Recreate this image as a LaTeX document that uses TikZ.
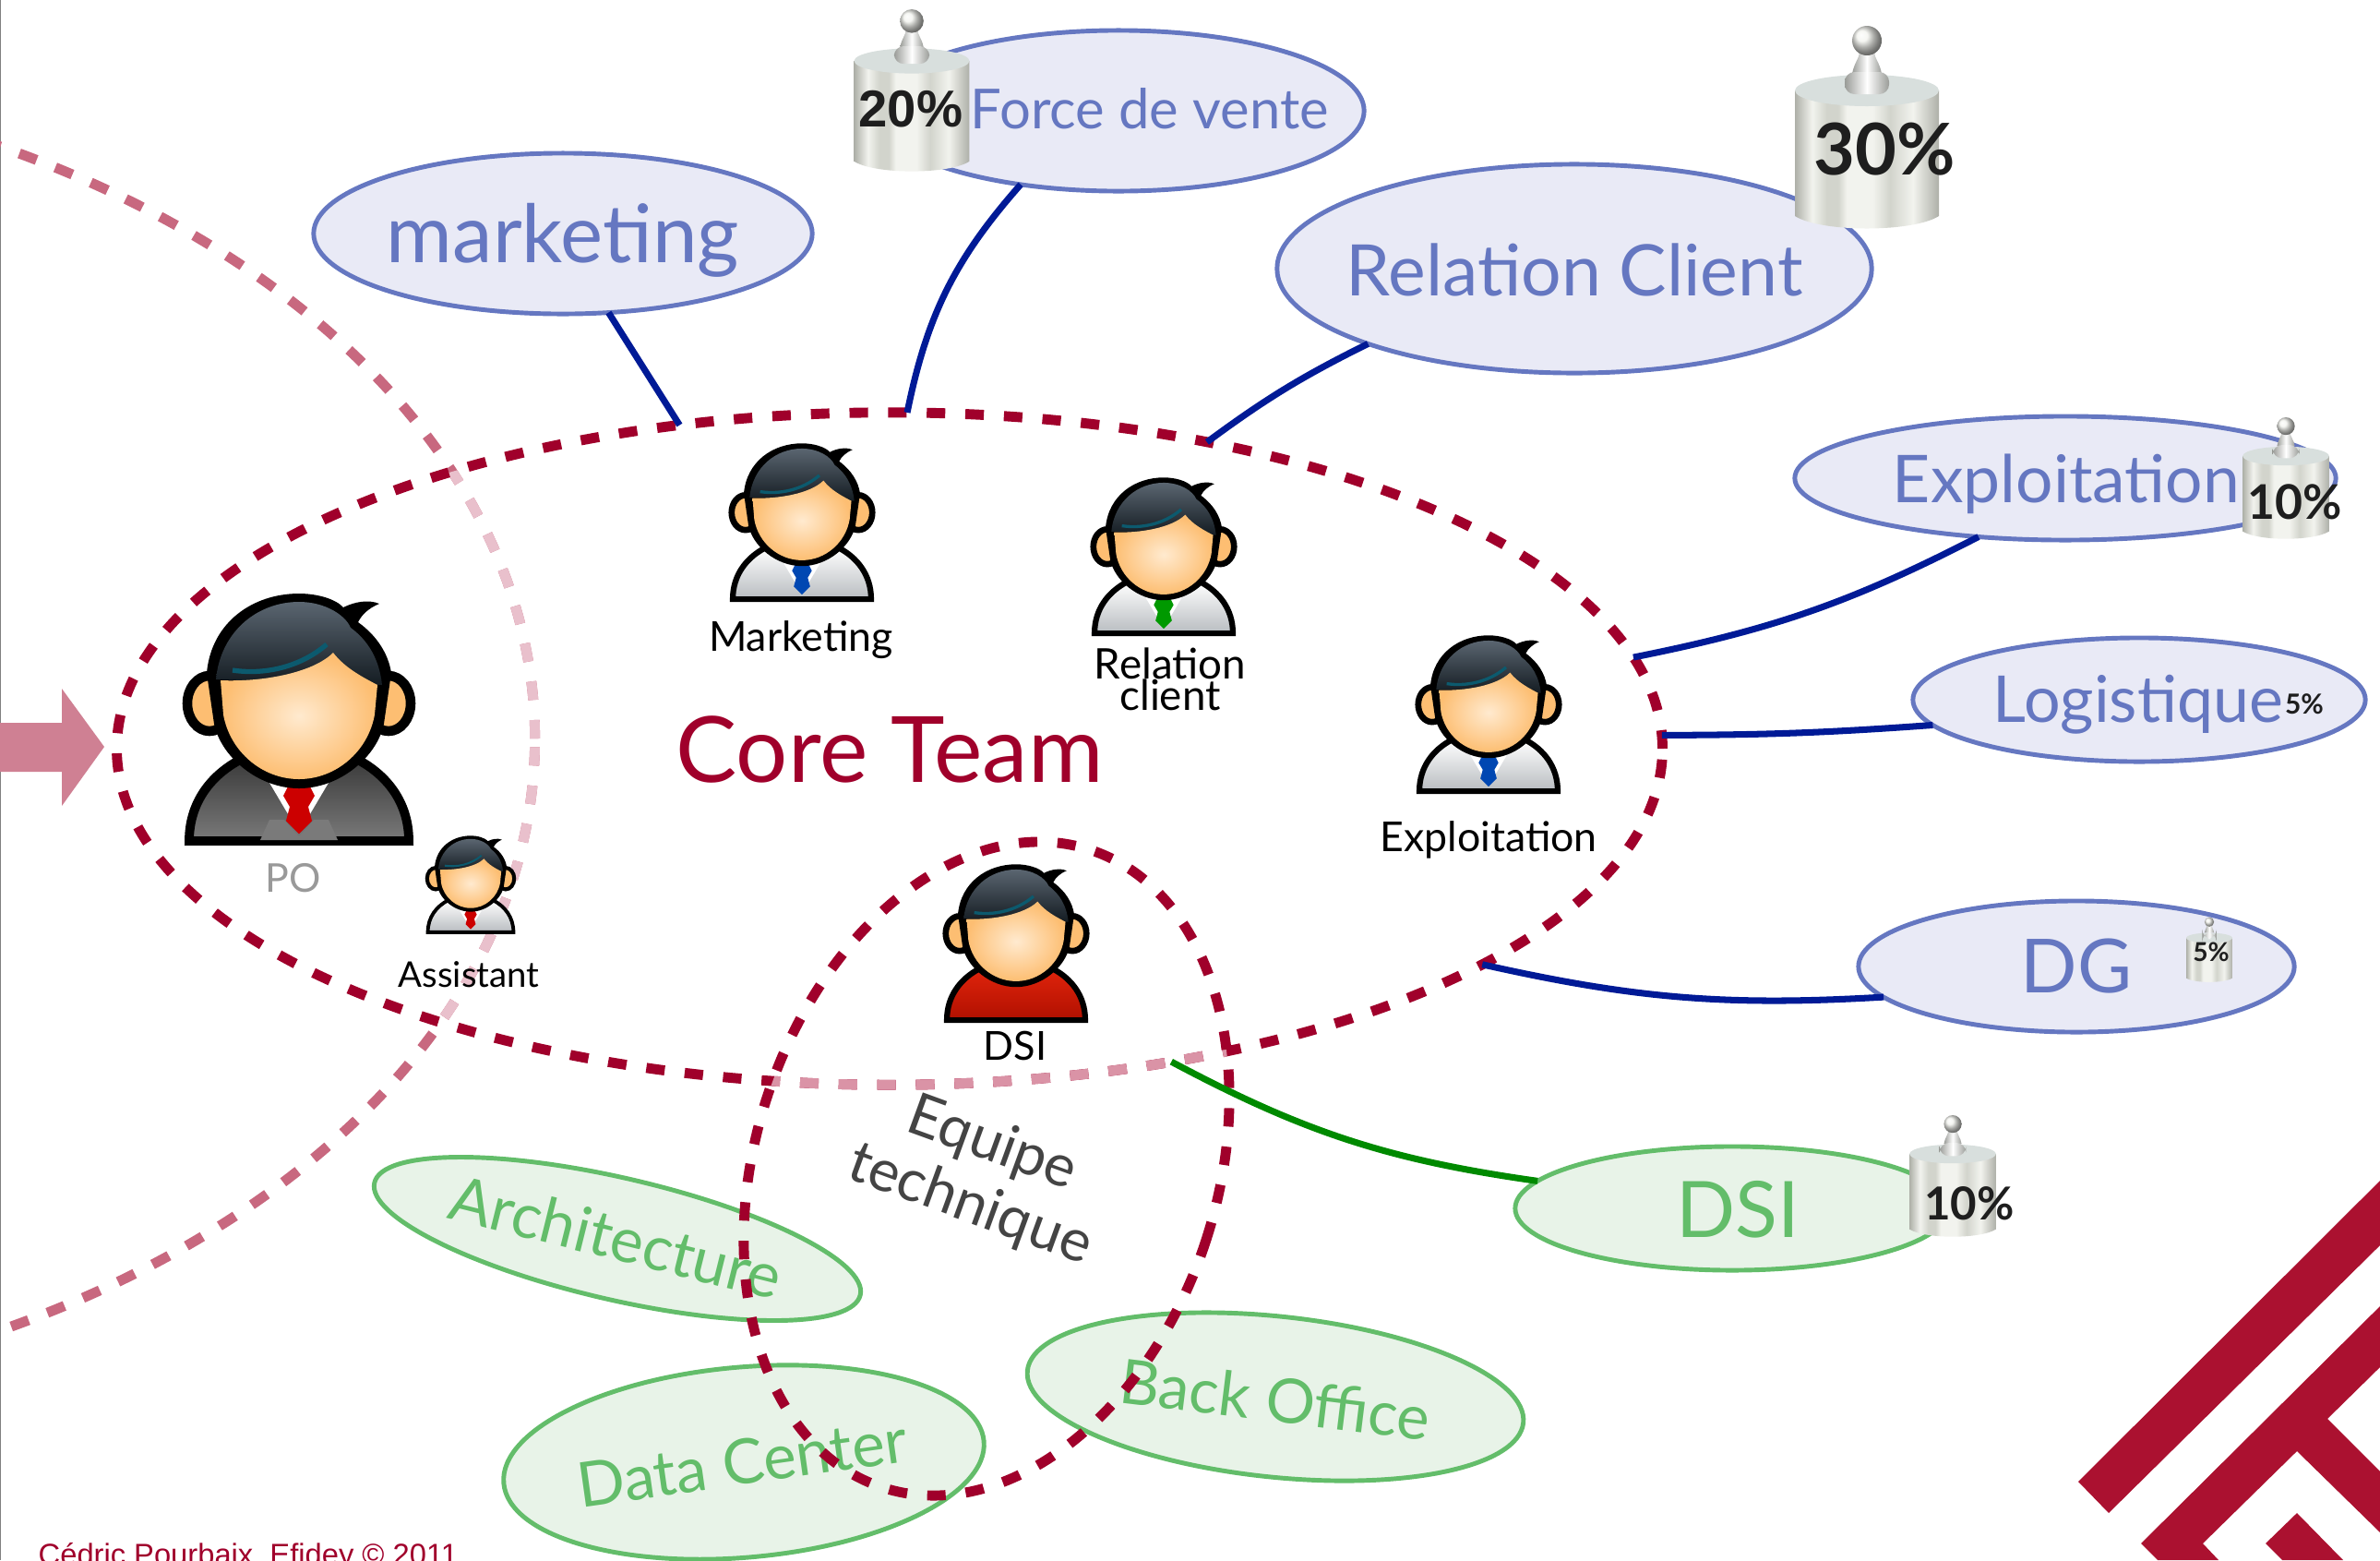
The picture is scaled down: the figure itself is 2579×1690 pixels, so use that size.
\documentclass[tikz,border=0pt]{standalone}
\usepackage{fontspec}
\setmainfont{Lato}
\newfontfamily\creditfont{Liberation Sans}
\usetikzlibrary{shapes,positioning}

\definecolor{coreRed}{HTML}{A0002B}
\definecolor{corePale}{HTML}{DA93A6}
\definecolor{poPink}{HTML}{C8687F}
\definecolor{poPale}{HTML}{E9C0CC}
\definecolor{arrowPink}{HTML}{CF8093}
\definecolor{ovalBlue}{HTML}{6577C1}
\definecolor{ovalBlueFill}{HTML}{E9EAF6}
\definecolor{ovalGreen}{HTML}{63BD6A}
\definecolor{ovalGreenFill}{HTML}{E8F3E8}
\definecolor{linkBlue}{HTML}{001A96}
\definecolor{linkGreen}{HTML}{008A00}
\definecolor{logoRed}{HTML}{AB1130}
\definecolor{inkGrey}{HTML}{444444}
\definecolor{inkBlack}{HTML}{1E1E1E}
\definecolor{hairTop}{HTML}{5A6570}
\definecolor{hairBottom}{HTML}{141C22}
\definecolor{hairTeal}{HTML}{0C5A6E}
\definecolor{faceLight}{HTML}{FFEACF}
\definecolor{faceDark}{HTML}{FDBE72}
\definecolor{steelDark}{HTML}{AEB0A8}
\definecolor{steelMid}{HTML}{9A9C98}
\definecolor{steelSoft}{HTML}{D2D4CC}
\definecolor{steelLight}{HTML}{F2F3EE}
\definecolor{steelTop}{HTML}{D8DFDD}
\definecolor{jacketTop}{HTML}{3A3A3A}
\definecolor{jacketBottom}{HTML}{7A7A7A}
\definecolor{shirtBottom}{HTML}{B8BCC0}
\definecolor{poloTop}{HTML}{E0240C}
\definecolor{poloBottom}{HTML}{B01000}

\pgfdeclarehorizontalshading{steel}{100bp}{color(0bp)=(steelDark); color(25bp)=(steelDark);
    color(31bp)=(steelLight); color(36bp)=(steelSoft); color(40bp)=(steelSoft); color(43bp)=(steelLight);
    color(52bp)=(steelLight); color(58bp)=(steelSoft); color(66bp)=(steelLight); color(75bp)=(steelDark); color(100bp)=(steelDark)}

\newcommand{\fsize}[1]{\fontsize{#1}{#1}\selectfont}
\newcommand{\fsizeskip}[2]{\fontsize{#1}{#2}\selectfont}

\tikzset{x=0.01cm,y=-0.01cm,
    blue oval/.style={ellipse,draw=ovalBlue,fill=ovalBlueFill,line width=1.4pt,inner sep=0pt,outer sep=0pt},
    green oval/.style={ellipse,draw=ovalGreen,fill=ovalGreenFill,line width=1.4pt,inner sep=0pt,outer sep=0pt},
    team loop/.style={ellipse,line width=3.1pt,dash pattern=on 5.7pt off 6.2pt,inner sep=0pt,outer sep=0pt},
    blue text/.style={text=ovalBlue,inner sep=0pt},
    green text/.style={text=ovalGreen,inner sep=0pt},
    person text/.style={text=black,inner sep=0pt,font=\fsize{12.7}},
    weight text/.style={text=inkBlack,inner sep=0pt},
    link/.style={draw,line width=2pt},
}

% one person: x, y of the foot, scale, body colours, what is worn on the shirt
\newcommand{\personicon}[6]{%
\begin{scope}[shift={(#1,#2)},scale=#3]
    % ears
    \foreach \side in {-1,1}
        \draw[line width=#3*3pt,fill=faceDark] (\side*97,-152) ellipse [x radius=24,y radius=30];
    % body
    \draw[line width=#3*2.8pt,top color=#4,bottom color=#5]
        (-119,-3) .. controls (-119,-45) and (-95,-75) .. (-62,-92) -- (62,-92)
        .. controls (95,-75) and (119,-45) .. (119,-3) -- cycle;
    #6
    % head
    \fill[black] (-100,-185) .. controls (-95,-240) and (-50,-271) .. (0,-271)
        .. controls (20,-271) and (40,-265) .. (48,-256) .. controls (60,-262) and (75,-265) .. (87,-260)
        .. controls (75,-255) and (68,-248) .. (64,-240) .. controls (85,-225) and (97,-205) .. (100,-185)
        -- (92,-130) .. controls (85,-95) and (45,-60) .. (0,-60)
        .. controls (-45,-60) and (-85,-95) .. (-92,-130) -- cycle;
    \shade[top color=hairTop,bottom color=hairBottom] (-90,-178) .. controls (-85,-230) and (-45,-262) .. (0,-262)
        .. controls (28,-262) and (50,-248) .. (56,-234) .. controls (75,-220) and (87,-200) .. (90,-172) -- cycle;
    \shade[inner color=faceLight,outer color=faceDark] (-85,-177) .. controls (-40,-175) and (15,-185) .. (37,-207)
        .. controls (50,-190) and (70,-180) .. (85,-172) -- (82,-140)
        .. controls (75,-100) and (40,-70) .. (0,-70) .. controls (-40,-70) and (-75,-100) .. (-82,-140) -- cycle;
    \draw[line width=#3*1.5pt,hairTeal] (-72,-188) .. controls (-40,-183) and (0,-190) .. (30,-216);
\end{scope}}

% shirt with a tie: colour of the tie
\newcommand{\tieshirt}[1]{%
    \fill[white] (-45,-88) -- (0,-12) -- (45,-88) -- cycle;
    \fill[#1] (-8,-70) -- (8,-70) -- (17,-52) -- (10,-40) -- (14,-25) -- (0,-11) -- (-14,-25) -- (-10,-40) -- (-17,-52) -- cycle;}

% one weight: x, y of the foot, scale
\newcommand{\weighticon}[3]{%
\begin{scope}[shift={(#1,#2)},scale=#3]
    \shade[shading=steel]
        (-78,-150) -- (-78,-14) .. controls (-50,4) and (50,4) .. (78,-14) -- (78,-150) -- cycle;
    \fill[steelTop] (0,-150) ellipse [x radius=78,y radius=17];
    \shade[left color=steelMid,right color=steelMid,middle color=white]
        (-16,-168) .. controls (-14,-180) and (-8,-185) .. (-8,-192) -- (8,-192) .. controls (8,-185) and (14,-180) .. (16,-168) -- cycle;
    \shade[left color=steelMid,right color=steelMid,middle color=white,rounded corners=3pt] (-24,-170) rectangle (24,-146);
    \shade[ball color=steelLight] (0,-204) circle [radius=16];
\end{scope}}

\begin{document}
\begin{tikzpicture}

    \clip (0,0) rectangle (2579,1690);
    \draw[line width=0.6pt,gray] (0,0) -- (0,1690);

    % the PO's wide loop, paler inside the core team
    \node[team loop,draw=poPink,minimum width=21.58cm,minimum height=14.46cm] (poloop) at (-500,800) {};
    \begin{scope}
        \clip (964,811) ellipse [x radius=837,y radius=364];
        \node[team loop,draw=poPale,minimum width=21.58cm,minimum height=14.46cm] (poloopin) at (-500,800) {};
    \end{scope}

    \fill[arrowPink] (0,783) -- (67,783) -- (67,746) -- (113,809) -- (67,873) -- (67,836) -- (0,836) -- cycle;

    % contributors
    \node[blue oval,minimum width=5.4cm,minimum height=1.74cm] (marketing) at (610,253) {};
    \node[blue oval,minimum width=5.32cm,minimum height=1.74cm] (force) at (1212,120) {};
    \node[blue oval,minimum width=6.44cm,minimum height=2.26cm] (relation) at (1706,291) {};
    \node[blue oval,minimum width=5.86cm,minimum height=1.34cm] (exploit) at (2238,518) {};
    \node[blue oval,minimum width=4.9cm,minimum height=1.34cm] (logistique) at (2318,758) {};
    \node[blue oval,minimum width=4.72cm,minimum height=1.42cm] (dg) at (2250,1047) {};
    \node[green oval,minimum width=4.7cm,minimum height=1.34cm] (dsi) at (1877,1309) {};
    \node[green oval,rotate=-13,minimum width=5.4cm,minimum height=1.32cm] (archi) at (669,1342) {};
    \node[green oval,rotate=5,minimum width=5.22cm,minimum height=2.06cm] (datacenter) at (806,1584) {};
    \node[green oval,rotate=-6,minimum width=5.4cm,minimum height=1.74cm] (backoffice) at (1382,1513) {};

    \node[blue text,font=\fsize{24.8}] (marketingname) at (610,260) {marketing};
    \node[blue text,font=\fsize{17}] (forcename) at (1246,118) {Force de vente};
    \node[blue text,font=\fsize{21.9}] (relationname) at (1706,292) {Relation Client};
    \node[blue text,font=\fsize{20.3}] (exploitname) at (2239,524) {Exploitation};
    \node[blue text,font=\fsize{19.9}] (logistiquename) at (2317,763) {Logistique};
    \node[blue text,font=\fsize{23}] (dgname) at (2250,1047) {DG};
    \node[green text,font=\fsize{24}] (dsiname) at (1883,1310) {DSI};
    \node[green text,rotate=-14,font=\fsize{19.2}] (archiname) at (668,1340) {Architecture};
    \node[green text,rotate=8,font=\fsize{19.2}] (datacentername) at (804,1584) {Data Center};
    \node[green text,rotate=-7,font=\fsize{19}] (backofficename) at (1382,1516) {Back Office};

    % core team and technical team
    \node[team loop,draw=coreRed,minimum width=16.74cm,minimum height=7.28cm] (core) at (964,811) {};
    \begin{scope}
        \clip[rotate around={-18:(1069,1266)}] (1069,1266) ellipse [x radius=250,y radius=363];
        \node[team loop,draw=corePale,minimum width=16.74cm,minimum height=7.28cm] (corein) at (964,811) {};
    \end{scope}
    \node[team loop,draw=coreRed,rotate=-18,minimum width=5cm,minimum height=7.26cm] (equipe) at (1069,1266) {};

    \path[link,linkBlue]
    (marketing.-60) edge (core.123)
    (force.-143) edge [bend right=15] (core.87.5)
    (relation.-160) edge [bend right=5] (core.44.3)
    (exploit.-146.6) edge [bend left=8] (core.7.8)
    (logistique.-173) edge [bend left=2] (core.1.5)
    (dg.-171.4) edge [bend left=8] (core.-20.3);
    \path[link,linkGreen]
    (dsi.172.5) edge [bend left=10] (core.-48);

    % people
    \personicon{324}{914}{1}{jacketTop}{jacketBottom}{\tieshirt{red!80!black}
        \fill[jacketBottom] (-42,-4) -- (-32,-26) -- (-16,-26) -- (0,-8) -- (16,-26) -- (32,-26) -- (42,-4) -- cycle;
        \fill[red!80!black] (-14,-25) -- (14,-25) -- (0,-11) -- cycle;}
    \personicon{510}{1011}{0.39}{white}{shirtBottom}{\tieshirt{red!80!black}}
    \personicon{869}{651}{0.63}{white}{shirtBottom}{\tieshirt{blue!60!cyan!70!black}}
    \personicon{1261}{688}{0.63}{white}{shirtBottom}{\tieshirt{green!60!black}}
    \personicon{1613}{859}{0.63}{white}{shirtBottom}{\tieshirt{blue!60!cyan!70!black}}
    \personicon{1101}{1107}{0.63}{poloTop}{poloBottom}{\fill[white] (-35,-92) -- (-10,-62) -- (0,-80) -- (10,-62) -- (35,-92) -- cycle;}

    \node[inner sep=0pt,text=black!40,font=\fsize{12.2}] (poname) at (318,951) {PO};
    \node[person text,font=\fsize{10.9}] (assistantname) at (508,1056) {Assistant};
    \node[person text] (marketingrole) at (868,693) {Marketing};
    \node[person text,align=center,font=\fsizeskip{13}{9.7}] (relationrole) at (1268,736) {Relation\\client};
    \node[person text] (exploitrole) at (1613,910) {Exploitation};
    \node[person text,font=\fsize{12.3}] (dsirole) at (1100,1133) {DSI};

    \node[inner sep=0pt,text=coreRed,font=\fsize{28.2}] (coretitle) at (964,812) {Core Team};
    \node[inner sep=0pt,text=inkGrey,rotate=-20,align=center,font=\fsizeskip{18}{20}] (equipename) at (1063,1273) {Equipe\\technique};

    % weights
    \weighticon{988}{186}{0.8}
    \weighticon{2023}{248}{1}
    \weighticon{2477}{584}{0.6}
    \weighticon{2394}{1064}{0.32}
    \weighticon{2116}{1340}{0.6}

    \node[weight text,font=\creditfont\bfseries\fsize{16}] (shareforce) at (987,118) {20\%};
    \node[weight text,font=\bfseries\fsize{22}] (sharerelation) at (2042,162) {30\%};
    \node[weight text,font=\bfseries\fsize{14.7}] (shareexploit) at (2487,544) {10\%};
    \node[weight text,font=\bfseries\fsize{8.5}] (sharelogistique) at (2497,763) {5\%};
    \node[weight text,font=\bfseries\fsize{8}] (sharedg) at (2396,1031) {5\%};
    \node[weight text,font=\bfseries\fsize{14}] (sharedsi) at (2134,1304) {10\%};

    % logo corner
    \fill[logoRed] (2252,1605) -- (2579,1279) -- (2579,1349) -- (2285,1639) -- cycle;
    \fill[logoRed] (2338,1690) -- (2320,1672) -- (2579,1415) -- (2579,1481) -- (2522,1537) -- (2579,1594)
        -- (2579,1660) -- (2489,1572) -- (2387,1672) -- (2404,1690) -- cycle;
    \fill[logoRed] (2473,1690) -- (2455,1672) -- (2489,1639) -- (2539,1690) -- cycle;

    \node[anchor=base west,inner sep=0pt,text=coreRed,font=\creditfont\fsize{9.3}] (credit) at (41,1695) {Cédric Pourbaix, Efidey © 2011};

\end{tikzpicture}
\end{document}
